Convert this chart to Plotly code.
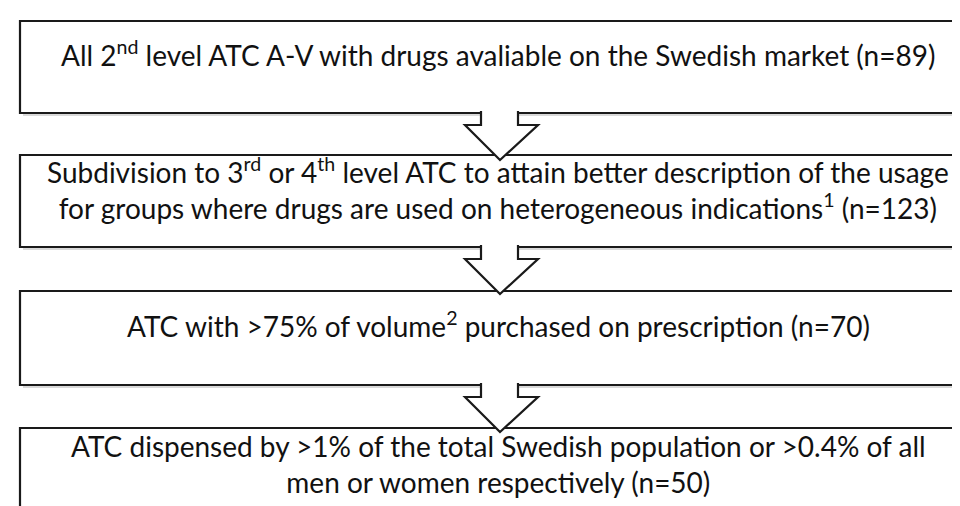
import plotly.graph_objects as go

# ---- content (data) ----
step_lines = [
    ["All 2<sup>nd</sup> level ATC A-V with drugs avaliable on the Swedish market (n=89)"],
    ["Subdivision to 3<sup>rd</sup> or 4<sup>th</sup> level ATC to attain better description of the usage",
     "for groups where drugs are used on heterogeneous indications<sup>1</sup> (n=123)"],
    ["ATC with >75% of volume<sup>2</sup> purchased on prescription (n=70)"],
    ["ATC dispensed by >1% of the total Swedish population or >0.4% of all",
     "men or women respectively (n=50)"],
]
step_counts = [89, 123, 70, 50]

# ---- layout geometry (pixels, y downward) ----
box_top = [13, 147, 283, 420]
box_bottom = [105, 239, 377, 530]
box_left, box_right = 12, 975
text_y = [45, 180.5, 316, 455.5]
text_x = 490

arrow_x = dict(shaft_l=473, shaft_r=510, head_l=457, head_r=530, tip=492)

fig = go.Figure()
shapes = []
# shadows
for t, b in zip(box_top, box_bottom):
    shapes.append(dict(type="rect", xref="x", yref="y", x0=box_left + 3, x1=box_right + 3,
                       y0=t + 3, y1=b + 3, line=dict(width=0), fillcolor="#d9d9d9", layer="below"))
# boxes
for t, b in zip(box_top, box_bottom):
    shapes.append(dict(type="rect", xref="x", yref="y", x0=box_left, x1=box_right,
                       y0=t, y1=b, line=dict(color="#1a1a1a", width=2.2), fillcolor="white", layer="below"))
# arrows
for b in box_bottom[:-1]:
    a = arrow_x
    path = (f"M {a['shaft_l']} {b-2} L {a['shaft_l']} {b+12} L {a['head_l']} {b+12} "
            f"L {a['tip']} {b+47} L {a['head_r']} {b+12} L {a['shaft_r']} {b+12} L {a['shaft_r']} {b-2}")
    shapes.append(dict(type="path", xref="x", yref="y", path=path,
                       line=dict(color="#1a1a1a", width=2.2), fillcolor="white", layer="above"))

annotations = []
for lines, y in zip(step_lines, text_y):
    annotations.append(dict(x=text_x, y=y, xref="x", yref="y", text="<br>".join(lines),
                            showarrow=False, xanchor="center", yanchor="middle", align="center",
                            font=dict(family="Lato", size=28, color="#111111")))

fig.update_layout(
    width=960, height=506,
    margin=dict(l=0, r=0, t=0, b=0),
    paper_bgcolor="white", plot_bgcolor="white",
    xaxis=dict(range=[0, 960], visible=False, fixedrange=True),
    yaxis=dict(range=[506, 0], visible=False, fixedrange=True),
    shapes=shapes, annotations=annotations, showlegend=False,
)
fig.write_html("out.html")
